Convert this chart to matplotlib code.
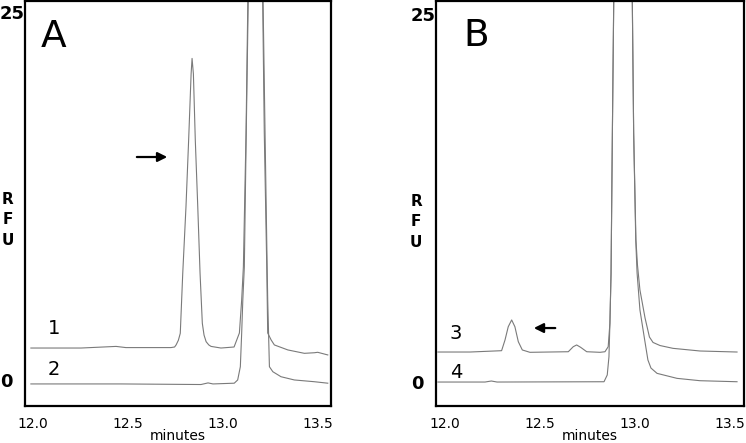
import matplotlib.pyplot as plt

# values (minutes, RFU); peak apices above 25 are off-scale
t1 = [11.989, 12.253, 12.437, 12.489, 12.726, 12.745, 12.753, 12.765, 12.775, 12.788, 12.805, 12.819,
      12.832, 12.837, 12.844, 12.854, 12.867, 12.879, 12.891, 12.900, 12.911, 12.925, 12.937, 12.989,
      13.058, 13.086, 13.098, 13.107, 13.121, 13.130, 13.168, 13.209, 13.217, 13.230, 13.235, 13.253,
      13.270, 13.341, 13.428, 13.481, 13.498, 13.551]
rfu1 = [2.17, 2.17, 2.28, 2.20, 2.20, 2.24, 2.38, 2.70, 3.17, 7.25, 11.77, 16.30,
        20.80, 21.85, 20.80, 16.30, 11.77, 7.27, 3.85, 3.05, 2.60, 2.38, 2.28, 2.17,
        2.24, 3.19, 5.43, 7.68, 16.78, 25.34, 60.0, 25.34, 16.78, 7.68, 3.19, 2.72,
        2.38, 2.04, 1.81, 1.85, 1.88, 1.70]

t2 = [11.989, 12.463, 12.884, 12.921, 12.947, 13.059, 13.077, 13.091, 13.098, 13.104, 13.112, 13.122,
      13.132, 13.168, 13.211, 13.221, 13.232, 13.235, 13.244, 13.262, 13.305, 13.375, 13.481, 13.551]
rfu2 = [-0.27, -0.27, -0.31, -0.20, -0.27, -0.22, 0.0, 0.90, 3.17, 5.43, 7.68, 16.78,
        25.34, 60.0, 25.34, 16.78, 7.68, 5.43, 0.90, 0.56, 0.22, 0.0, -0.12, -0.22]

t3 = [11.963, 12.132, 12.298, 12.316, 12.333, 12.351, 12.368, 12.386, 12.407, 12.447, 12.649, 12.675,
      12.693, 12.714, 12.746, 12.816, 12.842, 12.859, 12.868, 12.874, 12.881, 12.888, 12.937, 12.986,
      12.993, 13.005, 13.013, 13.026, 13.053, 13.076, 13.095, 13.132, 13.200, 13.342, 13.537]
rfu3 = [2.04, 2.04, 2.13, 2.86, 3.76, 4.22, 3.76, 2.74, 2.18, 2.02, 2.06, 2.40,
        2.52, 2.36, 2.06, 2.02, 2.06, 2.40, 3.99, 7.39, 16.94, 25.76, 60.0, 25.76,
        16.94, 9.66, 7.96, 6.26, 4.35, 3.06, 2.69, 2.48, 2.29, 2.11, 2.04]

t4 = [11.963, 12.211, 12.244, 12.274, 12.837, 12.854, 12.863, 12.868, 12.874, 12.881, 12.888, 12.937,
      12.986, 12.993, 13.004, 13.011, 13.026, 13.051, 13.068, 13.084, 13.116, 13.221, 13.342, 13.537]
rfu4 = [0.0, 0.0, 0.07, 0.0, 0.02, 0.48, 1.72, 3.99, 7.39, 16.94, 25.76, 60.0,
        25.76, 16.94, 9.66, 7.41, 4.90, 2.86, 1.50, 0.95, 0.59, 0.25, 0.09, 0.02]

xticks = [12.0, 12.5, 13.0, 13.5]
yticks = [0, 25]

fig = plt.figure(figsize=(7.46, 4.43), dpi=100)
axA = fig.add_axes([0.0335, 0.0835, 0.4102, 0.9142])
axB = fig.add_axes([0.5845, 0.0835, 0.4129, 0.9142])

line_kw = dict(color="#7a7a7a", lw=0.8)
axA.plot(t1, rfu1, **line_kw)
axA.plot(t2, rfu2, **line_kw)
axB.plot(t3, rfu3, **line_kw)
axB.plot(t4, rfu4, **line_kw)

axA.set_xlim(11.958, 13.568)
axA.set_ylim(-1.77, 25.75)
axB.set_xlim(11.953, 13.574)
axB.set_ylim(-1.63, 25.9)

for ax in (axA, axB):
    ax.set_xticks(xticks)
    ax.set_xticklabels([f"{x:.1f}" for x in xticks], fontsize=10)
    ax.set_yticks(yticks)
    ax.set_yticklabels([str(y) for y in yticks], fontsize=13, fontweight="bold")
    ax.tick_params(axis="x", length=0, pad=8)
    ax.tick_params(axis="y", length=0, pad=18)
    for lab in ax.get_yticklabels():
        lab.set_horizontalalignment("left")
    for s in ax.spines.values():
        s.set_linewidth(1.6)
    ax.set_xlabel("minutes", fontsize=10, labelpad=-1.5)

axA.text(12.11, 23.3, "A", fontsize=27, ha="center", va="center")
axB.text(12.163, 23.5, "B", fontsize=27, ha="center", va="center")
axA.text(12.11, 3.53, "1", fontsize=14, ha="center", va="center")
axA.text(12.11, 0.68, "2", fontsize=14, ha="center", va="center")
axB.text(12.058, 3.33, "3", fontsize=14, ha="center", va="center")
axB.text(12.058, 0.68, "4", fontsize=14, ha="center", va="center")

arrow = dict(arrowstyle="-|>", lw=1.6, color="black", mutation_scale=14)
axA.annotate("", xy=(12.721, 15.15), xytext=(12.532, 15.15), arrowprops=arrow)
axB.annotate("", xy=(12.453, 3.67), xytext=(12.595, 3.67), arrowprops=arrow)

fig.text(7.5 / 746, 1 - 220 / 443, "R\nF\nU", fontsize=11, fontweight="bold",
         ha="center", va="center", linespacing=1.45)
fig.text(416 / 746, 1 - 222 / 443, "R\nF\nU", fontsize=11, fontweight="bold",
         ha="center", va="center", linespacing=1.45)

fig.savefig("out.png", dpi=100)
